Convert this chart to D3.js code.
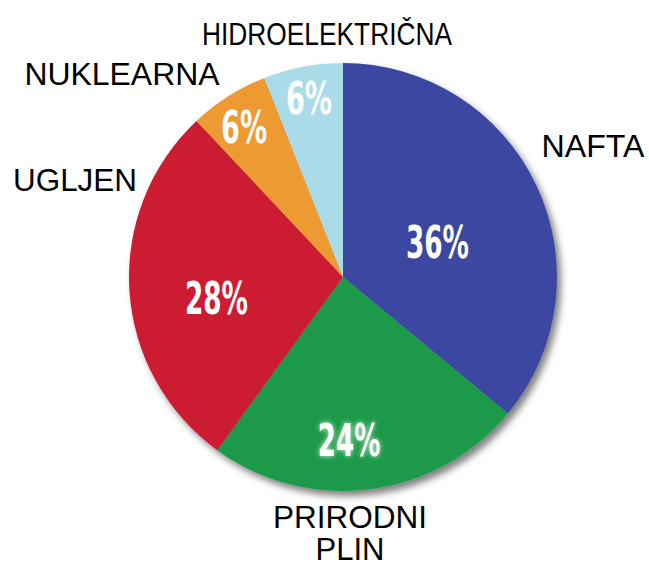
<!DOCTYPE html>
<html>
<head>
<meta charset="utf-8">
<script src="https://cdn.jsdelivr.net/npm/d3@7"></script>
<style>
  html, body { margin: 0; padding: 0; background: #fff; }
  svg { display: block; }
</style>
</head>
<body>
<svg id="chart" width="649" height="567"></svg>
<script>
// ---- data ----
const categories = ["NAFTA", "PRIRODNI PLIN", "UGLJEN", "NUKLEARNA", "HIDROELEKTRIČNA"];
const values = [36, 24, 28, 6, 6];
const colors = ["#3a46a0", "#1f9a48", "#cc1a33", "#ee9a33", "#a9dce8"];
const nameLines = [["NAFTA"], ["PRIRODNI", "PLIN"], ["UGLJEN"], ["NUKLEARNA"], ["HIDROELEKTRIČNA"]];

// ---- layout ----
const W = 649, H = 567;
const cx = 343, cy = 277, R = 214;
// percent label placement: [radius fraction, angle shift in degrees]
const pctPlace = [[0.47, 5], [0.76, 5], [0.60, -6], [0.84, -1], [0.85, 0]];
// category label anchors (centre x, first baseline) and fitted widths
const namePlace = [[593, 157], [350, 528], [75, 191], [122, 85], [327, 45]];
const nameWidth = [103, 154, 124, 195, 250];

const svg = d3.select("#chart");
const defs = svg.append("defs");

const shadow = defs.append("filter").attr("id", "shadow")
  .attr("x", "-20%").attr("y", "-20%").attr("width", "140%").attr("height", "140%");
shadow.append("feDropShadow").attr("dx", 4).attr("dy", 5).attr("stdDeviation", 3.5)
  .attr("flood-color", "#000").attr("flood-opacity", 0.5);

const glow = defs.append("filter").attr("id", "glow")
  .attr("x", "-30%").attr("y", "-30%").attr("width", "160%").attr("height", "160%");
glow.append("feGaussianBlur").attr("in", "SourceAlpha").attr("stdDeviation", 2.5).attr("result", "b");
glow.append("feFlood").attr("flood-color", "#d9ffe0").attr("flood-opacity", 0.9);
glow.append("feComposite").attr("in2", "b").attr("operator", "in").attr("result", "g");
const gm = glow.append("feMerge");
gm.append("feMergeNode").attr("in", "g");
gm.append("feMergeNode").attr("in", "SourceGraphic");

const data = categories.map((c, i) => ({ name: c, value: values[i], color: colors[i], i }));

const pie = d3.pie().value(d => d.value).sort(null);
const arcs = pie(data);
const arc = d3.arc().innerRadius(0).outerRadius(R);

const g = svg.append("g").attr("transform", `translate(${cx},${cy})`);

g.append("g").attr("filter", "url(#shadow)")
  .selectAll("path").data(arcs).join("path")
  .attr("d", arc)
  .attr("fill", d => d.data.color);

// percentage labels
g.selectAll("text.pct").data(arcs).join("text")
  .attr("class", "pct")
  .each(function(d) {
    const [f, shift] = pctPlace[d.data.i];
    const a = (d.startAngle + d.endAngle) / 2 + shift * Math.PI / 180;
    const x = Math.sin(a) * R * f;
    const y = -Math.cos(a) * R * f;
    d3.select(this).attr("x", x).attr("y", y + 16);
  })
  .attr("text-anchor", "middle")
  .attr("fill", "#fff")
  .attr("font-family", "'Liberation Sans Narrow', 'DejaVu Sans Condensed', 'Arial Narrow', sans-serif")
  .attr("font-weight", "bold")
  .attr("font-size", 44)
  .attr("textLength", d => d.data.value >= 10 ? 63 : 46)
  .attr("lengthAdjust", "spacingAndGlyphs")
  .attr("filter", d => d.data.name === "PRIRODNI PLIN" ? "url(#glow)" : null)
  .text(d => d.data.value + "%");

// category labels
const names = svg.selectAll("text.name").data(data).join("text")
  .attr("class", "name")
  .attr("text-anchor", "middle")
  .attr("fill", "#000")
  .attr("font-family", "'Liberation Sans', Arial, sans-serif")
  .attr("font-size", 31);

names.each(function(d) {
  const [x, y] = namePlace[d.i];
  const t = d3.select(this);
  nameLines[d.i].forEach((line, k) => {
    t.append("tspan")
      .attr("x", x)
      .attr("y", y + k * 32)
      .attr("textLength", k === 0 ? nameWidth[d.i] : null)
      .attr("lengthAdjust", "spacingAndGlyphs")
      .text(line);
  });
});
</script>
</body>
</html>
